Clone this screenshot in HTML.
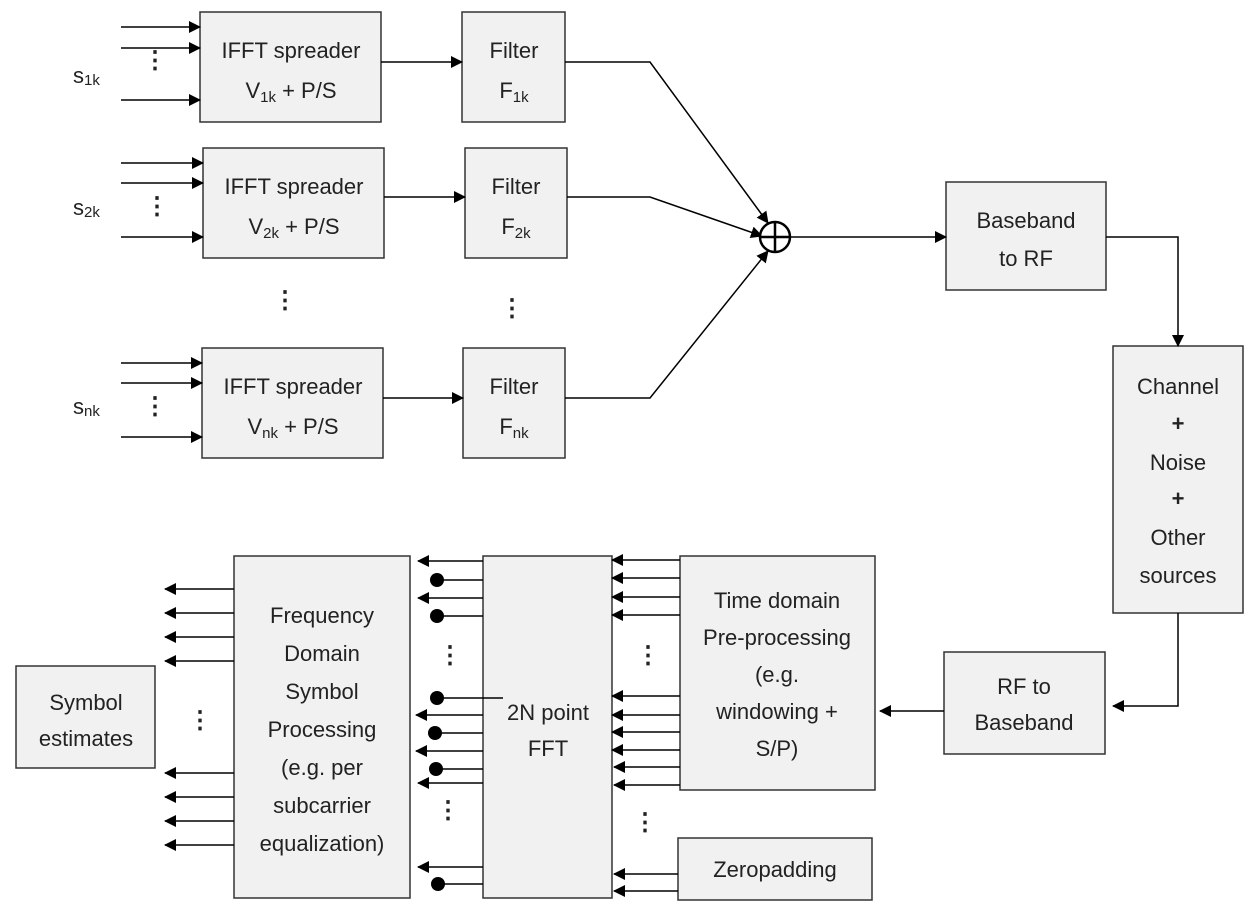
<!DOCTYPE html>
<html><head><meta charset="utf-8"><style>
body{margin:0;background:#fff}
svg text{font-family:"Liberation Sans",sans-serif;fill:#222}
line,path{stroke:#000;stroke-width:1.5;fill:none}
.m{marker-end:url(#a)}
</style></head><body>
<svg width="1260" height="916" viewBox="0 0 1260 916" xmlns="http://www.w3.org/2000/svg">
<defs>
<marker id="a" markerWidth="12" markerHeight="12" refX="11" refY="6" orient="auto" markerUnits="userSpaceOnUse"><polygon points="0,0 12,6 0,12" style="fill:#000;stroke:none"/></marker>
</defs>
<g fill="#f1f1f1" stroke="#333" stroke-width="1.5">
<rect x="200" y="12" width="181" height="110"/>
<rect x="203" y="148" width="181" height="110"/>
<rect x="202" y="348" width="181" height="110"/>
<rect x="462" y="12" width="103" height="110"/>
<rect x="465" y="148" width="102" height="110"/>
<rect x="463" y="348" width="102" height="110"/>
<rect x="946" y="182" width="160" height="108"/>
<rect x="1113" y="346" width="130" height="267"/>
<rect x="944" y="652" width="161" height="102"/>
<rect x="680" y="556" width="195" height="234"/>
<rect x="678" y="838" width="194" height="62"/>
<rect x="483" y="556" width="129" height="342"/>
<rect x="234" y="556" width="176" height="342"/>
<rect x="16" y="666" width="139" height="102"/>
</g>
<g>
<line class="m" x1="121" y1="27" x2="200" y2="27"/>
<line class="m" x1="121" y1="48" x2="200" y2="48"/>
<line class="m" x1="121" y1="100" x2="200" y2="100"/>
<line class="m" x1="121" y1="163" x2="203" y2="163"/>
<line class="m" x1="121" y1="183" x2="203" y2="183"/>
<line class="m" x1="121" y1="237" x2="203" y2="237"/>
<line class="m" x1="121" y1="363" x2="202" y2="363"/>
<line class="m" x1="121" y1="383" x2="202" y2="383"/>
<line class="m" x1="121" y1="437" x2="202" y2="437"/>
<line class="m" x1="381" y1="62" x2="462" y2="62"/>
<line class="m" x1="384" y1="197" x2="465" y2="197"/>
<line class="m" x1="383" y1="398" x2="463" y2="398"/>
<path class="m" d="M565 62H650L768 223"/>
<path class="m" d="M567 197H650L762 236"/>
<path class="m" d="M565 398H650L768 251"/>
<line class="m" x1="790" y1="237" x2="946" y2="237"/>
<path class="m" d="M1106 237H1178V346"/>
<path class="m" d="M1178 613V706H1113"/>
<line class="m" x1="944" y1="711" x2="880" y2="711"/>
<line class="m" x1="680" y1="560" x2="612" y2="560"/>
<line class="m" x1="680" y1="578" x2="612" y2="578"/>
<line class="m" x1="680" y1="597" x2="612" y2="597"/>
<line class="m" x1="680" y1="615" x2="612" y2="615"/>
<line class="m" x1="680" y1="696" x2="612" y2="696"/>
<line class="m" x1="680" y1="715" x2="612" y2="715"/>
<line class="m" x1="680" y1="732" x2="612" y2="732"/>
<line class="m" x1="680" y1="750" x2="612" y2="750"/>
<line class="m" x1="680" y1="767" x2="614" y2="767"/>
<line class="m" x1="680" y1="785" x2="614" y2="785"/>
<line class="m" x1="678" y1="874" x2="614" y2="874"/>
<line class="m" x1="678" y1="891" x2="614" y2="891"/>
<line class="m" x1="483" y1="561" x2="418" y2="561"/>
<line class="m" x1="483" y1="598" x2="418" y2="598"/>
<line class="m" x1="483" y1="715" x2="416" y2="715"/>
<line class="m" x1="483" y1="751" x2="416" y2="751"/>
<line class="m" x1="483" y1="783" x2="418" y2="783"/>
<line class="m" x1="483" y1="867" x2="418" y2="867"/>
<line class="m" x1="234" y1="589" x2="165" y2="589"/>
<line class="m" x1="234" y1="613" x2="165" y2="613"/>
<line class="m" x1="234" y1="637" x2="165" y2="637"/>
<line class="m" x1="234" y1="661" x2="165" y2="661"/>
<line class="m" x1="234" y1="773" x2="165" y2="773"/>
<line class="m" x1="234" y1="797" x2="165" y2="797"/>
<line class="m" x1="234" y1="821" x2="165" y2="821"/>
<line class="m" x1="234" y1="845" x2="165" y2="845"/>
</g>
<path d="M437 580H483M437 616H483M437 698H503M437 733H483M437 769H483M437 884H483"/>
<g fill="#000">
<circle cx="437" cy="580" r="7"/><circle cx="437" cy="616" r="7"/><circle cx="437" cy="698" r="7"/><circle cx="435" cy="733" r="7"/><circle cx="436" cy="769" r="7"/><circle cx="438" cy="884" r="7"/>
</g>
<circle cx="775" cy="237" r="15" fill="#fff" stroke="#000" stroke-width="2.5"/>
<path d="M760 237H790M775 222V252" style="stroke-width:2.5"/>
<g font-size="24" font-weight="bold" text-anchor="middle">
<text x="155" y="68">⋮</text><text x="157" y="214">⋮</text><text x="155" y="414">⋮</text>
<text x="285" y="308">⋮</text><text x="512" y="316">⋮</text>
<text x="450" y="663">⋮</text><text x="648" y="663">⋮</text>
<text x="200" y="728">⋮</text><text x="448" y="818">⋮</text><text x="645" y="830">⋮</text>
</g>
<g font-size="22" text-anchor="middle">
<text x="291" y="58">IFFT spreader</text><text x="291" y="98">V<tspan font-size="15" dy="4">1k</tspan><tspan dy="-4"> + P/S</tspan></text>
<text x="294" y="194">IFFT spreader</text><text x="294" y="234">V<tspan font-size="15" dy="4">2k</tspan><tspan dy="-4"> + P/S</tspan></text>
<text x="293" y="394">IFFT spreader</text><text x="293" y="434">V<tspan font-size="15" dy="4">nk</tspan><tspan dy="-4"> + P/S</tspan></text>
<text x="514" y="58">Filter</text><text x="514" y="98">F<tspan font-size="15" dy="4">1k</tspan></text>
<text x="516" y="194">Filter</text><text x="516" y="234">F<tspan font-size="15" dy="4">2k</tspan></text>
<text x="514" y="394">Filter</text><text x="514" y="434">F<tspan font-size="15" dy="4">nk</tspan></text>
<text x="1026" y="228">Baseband</text><text x="1026" y="266">to RF</text>
<text x="1178" y="394">Channel</text><text x="1178" y="431" font-weight="bold">+</text><text x="1178" y="470">Noise</text><text x="1178" y="506" font-weight="bold">+</text><text x="1178" y="545">Other</text><text x="1178" y="583">sources</text>
<text x="1024" y="694">RF to</text><text x="1024" y="730">Baseband</text>
<text x="777" y="608">Time domain</text><text x="777" y="645">Pre-processing</text><text x="777" y="682">(e.g.</text><text x="777" y="719">windowing +</text><text x="777" y="756">S/P)</text>
<text x="775" y="877">Zeropadding</text>
<text x="548" y="720">2N point</text><text x="548" y="756">FFT</text>
<text x="322" y="623">Frequency</text><text x="322" y="661">Domain</text><text x="322" y="699">Symbol</text><text x="322" y="737">Processing</text><text x="322" y="775">(e.g. per</text><text x="322" y="813">subcarrier</text><text x="322" y="851">equalization)</text>
<text x="86" y="710">Symbol</text><text x="86" y="746">estimates</text>
</g>
<g font-size="22">
<text x="73" y="83">s<tspan font-size="15" dy="2">1k</tspan></text>
<text x="73" y="215">s<tspan font-size="15" dy="2">2k</tspan></text>
<text x="73" y="414">s<tspan font-size="15" dy="2">nk</tspan></text>
</g>
</svg>
</body></html>
